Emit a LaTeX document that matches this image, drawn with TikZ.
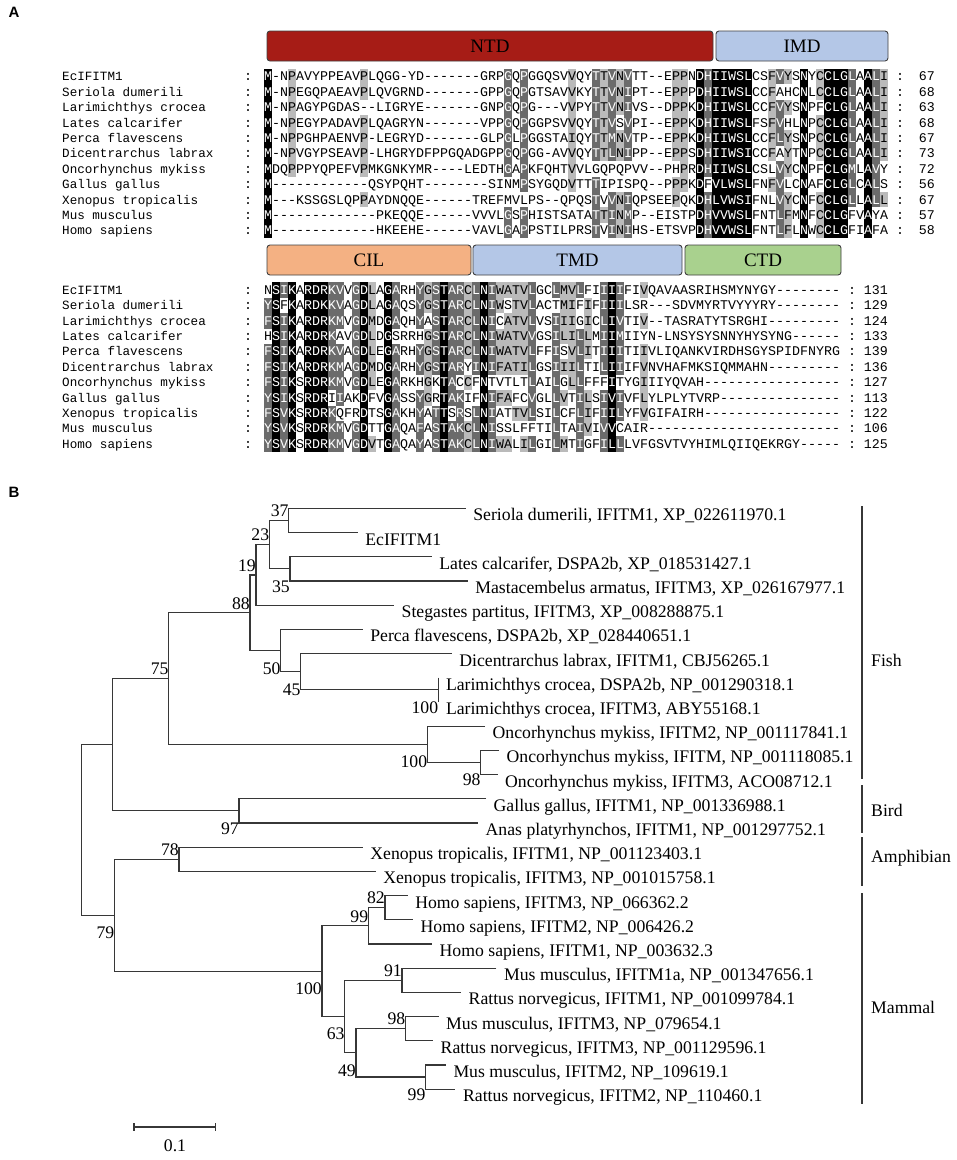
\documentclass[tikz,border=0pt]{standalone}
\usepackage{fontspec}
\setmainfont{Liberation Serif}
\newfontfamily\seqfont{Liberation Mono}
\newfontfamily\tagfont{Liberation Sans}

\definecolor{ntdred}{RGB}{166,28,22}
\definecolor{domblue}{RGB}{180,199,231}
\definecolor{cilorange}{RGB}{244,177,131}
\definecolor{ctdgreen}{RGB}{169,209,142}
\definecolor{treegray}{RGB}{55,55,55}

\tikzset{
     panel/.style = { font=\tagfont\bfseries\fontsize{15}{15}\selectfont, inner sep=0pt },
    dombox/.style = { draw=black!75, line width=0.9pt, rounded corners=3pt,
                      minimum height=30pt, inner sep=0pt, font=\fontsize{19}{19}\selectfont },
   seqname/.style = { anchor=west, inner sep=0pt, text height=8.6pt, text depth=0pt,
                      font=\seqfont\fontsize{12.6}{13}\selectfont },
   seqmark/.style = { inner sep=0pt, text height=8.6pt, text depth=0pt,
                      font=\seqfont\fontsize{13.3}{14}\selectfont },
   rescell/.style = { inner sep=0pt, minimum width=8pt, minimum height=15.4pt,
                      text height=8.6pt, text depth=0pt, font=\seqfont\fontsize{13.3}{14}\selectfont },
   resnone/.style = { rescell },
  reslight/.style = { rescell, fill=black!27 },
   resdark/.style = { rescell, fill=black!58, text=white },
  resblack/.style = { rescell, fill=black, text=white },
  treeline/.style = { draw=treegray, line width=1.2pt },
      leaf/.style = { anchor=base west, xshift=7.5pt, yshift=-12.5pt, inner sep=0pt,
                      font=\fontsize{17.7}{18}\selectfont },
    bootup/.style = { anchor=east, yshift=9.5pt, inner sep=0pt, font=\fontsize{17.7}{18}\selectfont },
    bootdn/.style = { anchor=east, yshift=-17.7pt, inner sep=0pt, font=\fontsize{17.7}{18}\selectfont },
     clade/.style = { anchor=west, inner sep=0pt, font=\fontsize{17.7}{18}\selectfont }
}

\newcount\rescol
\newcount\reslevel
\def\dsh#1{\ifnum#1>0 -\expandafter\dsh\expandafter{\the\numexpr#1-1\relax}\fi}
\def\readres#1{\ifx\relax#1\else
  \global\advance\rescol by 1
  \expandafter\xdef\csname res:\curblk:\currow:\the\rescol\endcsname{#1}%
  \expandafter\readres\fi}
\def\storeseq#1#2#3#4{\def\curblk{#1}\def\currow{#2}\global\rescol=0
  \edef\restmp{#4}\expandafter\readres\restmp\relax
  \loop\ifnum\rescol<#3 \global\advance\rescol by 1
  \expandafter\xdef\csname res:\curblk:\currow:\the\rescol\endcsname{-}\repeat}
\def\defgrp#1#2{\expandafter\def\csname grp:#1\endcsname{#2}}
\defgrp DD\defgrp ND\defgrp EE\defgrp QE\defgrp SS\defgrp TS
\defgrp KK\defgrp RK\defgrp FF\defgrp YF\defgrp WF
\defgrp LL\defgrp IL\defgrp VL\defgrp ML
\def\grpof#1{\ifcsname grp:#1\endcsname\csname grp:#1\endcsname\else#1\fi}
\def\countcol#1#2{\foreach \rowi in {1,...,11}{%
  \edef\resgrp{\grpof{\csname res:#1:\rowi:#2\endcsname}}%
  \edef\rescnt{\the\numexpr\ifcsname cnt:#1:#2:\resgrp\endcsname
    \csname cnt:#1:#2:\resgrp\endcsname\else0\fi+1\relax}%
  \expandafter\xdef\csname cnt:#1:#2:\resgrp\endcsname{\rescnt}}}
\newcommand\putres[5]{%
  \edef\resch{\csname res:#1:#2:#3\endcsname}%
  \edef\resgrp{\grpof{\resch}}%
  \edef\rescnt{\ifcsname cnt:#1:#3:\resgrp\endcsname\csname cnt:#1:#3:\resgrp\endcsname\else0\fi}%
  \reslevel=0
  \if-\resch\else
    \ifnum\rescnt>6 \reslevel=1 \fi
    \ifnum\rescnt>8 \reslevel=2 \fi
    \ifnum\rescnt>10 \reslevel=3 \fi
  \fi
  \ifcase\reslevel
    \node[resnone] (#1-#2-#3) at ({#5+8*#3-4},{#4}) {\resch};
  \or \node[reslight] (#1-#2-#3) at ({#5+8*#3-4},{#4}) {\resch};
  \or \node[resdark] (#1-#2-#3) at ({#5+8*#3-4},{#4}) {\resch};
  \or \node[resblack] (#1-#2-#3) at ({#5+8*#3-4},{#4}) {\resch};
  \fi}

\storeseq{A}{1}{78}{M-NPAVYPPEAVPLQGG-YD\dsh{7}GRPGQPGGQSVVQYTTVNVTT--EPPNDHIIWSLCSFVYSNYCCLGLAALI}
\storeseq{A}{2}{78}{M-NPEGQPAEAVPLQVGRND\dsh{7}GPPGQPGTSAVVKYTTVNIPT--EPPPDHIIWSLCCFAHCNLCCLGLAALI}
\storeseq{A}{3}{78}{M-NPAGYPGDAS--LIGRYE\dsh{7}GNPGQPG---VVPYTTVNIVS--DPPKDHIIWSLCCFVYSNPFCLGLAALI}
\storeseq{A}{4}{78}{M-NPEGYPADAVPLQAGRYN\dsh{7}VPPGQPGGPSVVQYTTVSVPI--EPPKDHIIWSLFSFVHLNPCCLGLAALI}
\storeseq{A}{5}{78}{M-NPPGHPAENVP-LEGRYD\dsh{7}GLPGLPGGSTAIQYTTMNVTP--EPPKDHIIWSLCCFLYSNPCCLGLAALI}
\storeseq{A}{6}{78}{M-NPVGYPSEAVP-LHGRYDFPPGQADGPPGQPGG-AVVQYTTLNIPP--EPPSDHIIWSICCFAYTNPCCLGLAALI}
\storeseq{A}{7}{78}{MDQPPPYQPEFVPMKGNKYMR----LEDTHGAPKFQHTVVLGQPQPVV--PHPRDHIIWSLCSLVYCNPFCLGMLAVY}
\storeseq{A}{8}{78}{M\dsh{12}QSYPQHT\dsh{8}SINMPSYGQDVTTTIPISPQ--PPPKDFVLWSLFNFVLCNAFCLGLCALS}
\storeseq{A}{9}{78}{M---KSSGSLQPPAYDNQQE\dsh{6}TREFMVLPS--QPQSTVVNIQPSEEPQKDHLVWSIFNLVYCNFCCLGLLALL}
\storeseq{A}{10}{78}{M\dsh{13}PKEQQE\dsh{6}VVVLGSPHISTSATATTINMP--EISTPDHVVWSLFNTLFMNFCCLGFVAYA}
\storeseq{A}{11}{78}{M\dsh{13}HKEEHE\dsh{6}VAVLGAPPSTILPRSTVINIHS-ETSVPDHVVWSLFNTLFLNWCCLGFIAFA}

\storeseq{B}{1}{72}{NSIKARDRKVVGDLAGARHYGSTARCLNIWATVLGCLMVLFIIIIFIVQAVAASRIHSMYNYGY}
\storeseq{B}{2}{72}{YSFKARDKKVAGDLAGAQSYGSTARCLNIWSTVLACTMIFIFIIILSR---SDVMYRTVYYYRY}
\storeseq{B}{3}{72}{FSIKARDRKMVGDMDGAQHYASTARCLNICATVLVSIIIGICLIVTIV--TASRATYTSRGHI}
\storeseq{B}{4}{72}{HSIKARDRKAVGDLDGSRRHGSTARCLNIWATVVGSILILLMIIMIIYN-LNSYSYSNNYHYSYNG}
\storeseq{B}{5}{72}{FSIKARDRKVAGDLEGARHYGSTARCLNIWATVLFFISVLITIIITIIVLIQANKVIRDHSGYSPIDFNYRG}
\storeseq{B}{6}{72}{FSIKARDRKMAGDMDGARHYGSTARYINIFATILGSIIILTILIIIFVNVHAFMKSIQMMAHN}
\storeseq{B}{7}{72}{FSIKSRDRKMVGDLEGARKHGKTACCFNTVTLTLAILGLLFFFITYGIIIYQVAH}
\storeseq{B}{8}{72}{YSIKSRDRIIAKDFVGASSYGRTAKIFNIFAFCVGLLVTILSIVIVFLYLPLYTVRP}
\storeseq{B}{9}{72}{FSVKSRDRKQFRDTSGAKHYATTSRSLNIATTVLSILCFLIFIILYFVGIFAIRH}
\storeseq{B}{10}{72}{YSVKSRDRKMVGDTTGAQAFASTAKCLNISSLFFTILTAIVIVVCAIR}
\storeseq{B}{11}{72}{YSVKSRDRKMVGDVTGAQAYASTAKCLNIWALILGILMTIGFILLLVFGSVTVYHIMLQIIQEKRGY}

\foreach \coli in {1,...,78}{\countcol{A}{\coli}}
\foreach \coli in {1,...,72}{\countcol{B}{\coli}}

\begin{document}
\begin{tikzpicture}[x=1pt, y=-1pt]
  \fill[white] (0,0) rectangle (957,1160);
  \useasboundingbox (0,0) rectangle (957,1160);

  \node[panel] (pa) at (14,12) {A};
  \node[panel] (pb) at (14,492) {B};

  \node[dombox, fill=ntdred, minimum width=446pt] (ntd) at (490,46) {NTD};
  \node[dombox, fill=domblue, minimum width=172pt] (imd) at (802,46) {IMD};
  \node[dombox, fill=cilorange, minimum width=204pt] (cil) at (369,260) {CIL};
  \node[dombox, fill=domblue, minimum width=209pt] (tmd) at (577.5,260) {TMD};
  \node[dombox, fill=ctdgreen, minimum width=156pt] (ctd) at (763,260) {CTD};

  \foreach \rowi/\nm/\na/\nb in {1/EcIFITM1/67/131, 2/Seriola dumerili/68/129,
      3/Larimichthys crocea/63/124, 4/Lates calcarifer/68/133, 5/Perca flavescens/67/139,
      6/Dicentrarchus labrax/73/136, 7/Oncorhynchus mykiss/72/127, 8/Gallus gallus/56/113,
      9/Xenopus tropicalis/67/122, 10/Mus musculus/57/106, 11/Homo sapiens/58/125}{
    \node[seqname] (nmA-\rowi) at (62,{76.5+15.4*(\rowi-1)}) {\nm};
    \node[seqmark] (cA-\rowi) at (248,{76.5+15.4*(\rowi-1)}) {:};
    \node[seqmark] (dA-\rowi) at (900,{76.5+15.4*(\rowi-1)}) {:};
    \node[seqmark, anchor=east] (numA-\rowi) at (935,{76.5+15.4*(\rowi-1)}) {\na};
    \node[seqname] (nmB-\rowi) at (62,{290+15.4*(\rowi-1)}) {\nm};
    \node[seqmark] (cB-\rowi) at (248,{290+15.4*(\rowi-1)}) {:};
    \node[seqmark] (dB-\rowi) at (852,{290+15.4*(\rowi-1)}) {:};
    \node[seqmark, anchor=east] (numB-\rowi) at (888,{290+15.4*(\rowi-1)}) {\nb};
    \foreach \coli in {1,...,78}{\putres{A}{\rowi}{\coli}{76.5+15.4*(\rowi-1)}{264}}
    \foreach \coli in {1,...,72}{\putres{B}{\rowi}{\coli}{290+15.4*(\rowi-1)}{264}}
  }

  \foreach \lf/\xe/\txt in {1/465.7/{Seriola dumerili, IFITM1, XP\_022611970.1},
      2/357.7/EcIFITM1,
      3/431.7/{Lates calcarifer, DSPA2b, XP\_018531427.1},
      4/467.7/{Mastacembelus armatus, IFITM3, XP\_026167977.1},
      5/394/{Stegastes partitus, IFITM3, XP\_008288875.1},
      6/362.7/{Perca flavescens, DSPA2b, XP\_028440651.1},
      7/451.7/{Dicentrarchus labrax, IFITM1, CBJ56265.1},
      8/438.3/{Larimichthys crocea, DSPA2b, NP\_001290318.1},
      9/438.3/{Larimichthys crocea, IFITM3, ABY55168.1},
      10/485/{Oncorhynchus mykiss, IFITM2, NP\_001117841.1},
      11/499/{Oncorhynchus mykiss, IFITM, NP\_001118085.1},
      12/497.5/{Oncorhynchus mykiss, IFITM3, ACO08712.1},
      13/486/{Gallus gallus, IFITM1, NP\_001336988.1},
      14/478/{Anas platyrhynchos, IFITM1, NP\_001297752.1},
      15/362.7/{Xenopus tropicalis, IFITM1, NP\_001123403.1},
      16/375.6/{Xenopus tropicalis, IFITM3, NP\_001015758.1},
      17/407.6/{Homo sapiens, IFITM3, NP\_066362.2},
      18/413/{Homo sapiens, IFITM2, NP\_006426.2},
      19/432/{Homo sapiens, IFITM1, NP\_003632.3},
      20/496.4/{Mus musculus, IFITM1a, NP\_001347656.1},
      21/461/{Rattus norvegicus, IFITM1, NP\_001099784.1},
      22/438.5/{Mus musculus, IFITM3, NP\_079654.1},
      23/433/{Rattus norvegicus, IFITM3, NP\_001129596.1},
      24/445.8/{Mus musculus, IFITM2, NP\_109619.1},
      25/455.4/{Rattus norvegicus, IFITM2, NP\_110460.1}}{
    \coordinate (l\lf) at (\xe,{508.3+24.2*(\lf-1)});
    \node[leaf] (t\lf) at (l\lf) {\txt};
  }

  \coordinate (n37) at (288.7,520.4);
  \coordinate (n35) at (290,568.8);
  \coordinate (n23) at (269.3,544.6);
  \coordinate (n19) at (256,574.9);
  \coordinate (nla) at (438.3,689.8);
  \coordinate (n45) at (300.7,671.7);
  \coordinate (n50) at (280.7,650.5);
  \coordinate (n88) at (250,612.7);
  \coordinate (n98) at (480.7,762.4);
  \coordinate (non) at (427.3,744.3);
  \coordinate (n75) at (168.7,678.5);
  \coordinate (n97) at (239,810.8);
  \coordinate (nfb) at (112.3,744.7);
  \coordinate (n78) at (179,859.2);
  \coordinate (n82) at (385,907.6);
  \coordinate (n99) at (368.3,925.8);
  \coordinate (n91) at (402,980.2);
  \coordinate (n98b) at (405.4,1028.6);
  \coordinate (n99b) at (425.6,1077);
  \coordinate (n49) at (356,1052.8);
  \coordinate (n63) at (344.7,1016.5);
  \coordinate (nma) at (322,971.2);
  \coordinate (n79) at (114.4,915.2);
  \coordinate (root) at (81.8,830);

  \draw[treeline] (l1) -| (n37) |- (l2);
  \draw[treeline] (l3) -| (n35) |- (l4);
  \draw[treeline] (n37) -| (n23) |- (n35);
  \draw[treeline] (n23) -| (n19) |- (l5);
  \draw[treeline] (l8) -| (nla) |- (l9);
  \draw[treeline] (l7) -| (n45) |- (nla);
  \draw[treeline] (l6) -| (n50) |- (n45);
  \draw[treeline] (n19) -| (n88) |- (n50);
  \draw[treeline] (l11) -| (n98) |- (l12);
  \draw[treeline] (l10) -| (non) |- (n98);
  \draw[treeline] (n88) -| (n75) |- (non);
  \draw[treeline] (l13) -| (n97) |- (l14);
  \draw[treeline] (n75) -| (nfb) |- (n97);
  \draw[treeline] (l15) -| (n78) |- (l16);
  \draw[treeline] (l17) -| (n82) |- (l18);
  \draw[treeline] (n82) -| (n99) |- (l19);
  \draw[treeline] (l20) -| (n91) |- (l21);
  \draw[treeline] (l22) -| (n98b) |- (l23);
  \draw[treeline] (l24) -| (n99b) |- (l25);
  \draw[treeline] (n98b) -| (n49) |- (n99b);
  \draw[treeline] (n91) -| (n63) |- (n49);
  \draw[treeline] (n99) -| (nma) |- (n63);
  \draw[treeline] (n78) -| (n79) |- (nma);
  \draw[treeline] (nfb) -| (root) |- (n79);

  \node[bootup] (b37) at (n37) {37};
  \node[bootup] (b23) at (n23) {23};
  \node[bootup] (b19) at (n19) {19};
  \node[bootup] (b88) at (n88) {88};
  \node[bootup] (b75) at (n75) {75};
  \node[bootup] (b78) at (n78) {78};
  \node[bootup] (b82) at (n82) {82};
  \node[bootup] (b99) at (n99) {99};
  \node[bootup] (b91) at (n91) {91};
  \node[bootup] (b98b) at (n98b) {98};
  \node[bootdn] (b35) at (n35) {35};
  \node[bootdn] (b50) at (n50) {50};
  \node[bootdn] (b45) at (n45) {45};
  \node[bootdn] (bla) at (nla) {100};
  \node[bootdn] (bon) at (non) {100};
  \node[bootdn] (b98) at (n98) {98};
  \node[bootdn] (b97) at (n97) {97};
  \node[bootdn] (b79) at (n79) {79};
  \node[bootdn] (bma) at (nma) {100};
  \node[bootdn] (b63) at (n63) {63};
  \node[bootdn] (b49) at (n49) {49};
  \node[bootdn] (b99b) at (n99b) {99};

  \coordinate (fish1) at (862,506);
  \coordinate (fish2) at (862,779);
  \coordinate (bird1) at (862,785);
  \coordinate (bird2) at (862,833);
  \coordinate (amph1) at (862,837);
  \coordinate (amph2) at (862,886);
  \coordinate (mamm1) at (862,893);
  \coordinate (mamm2) at (862,1104);
  \draw[treeline] (fish1) -- (fish2);
  \draw[treeline] (bird1) -- (bird2);
  \draw[treeline] (amph1) -- (amph2);
  \draw[treeline] (mamm1) -- (mamm2);
  \node[clade] (fishlab) at (871,660) {Fish};
  \node[clade] (birdlab) at (871,810) {Bird};
  \node[clade] (amphlab) at (871,858) {Amphibian};
  \node[clade] (mammlab) at (871,1007) {Mammal};

  \coordinate (sc1) at (134,1127);
  \coordinate (sc2) at (215.5,1127);
  \draw[treeline] (sc1) -- (sc2);
  \draw[treeline] ([yshift=4pt]sc1) -- ([yshift=-4pt]sc1);
  \draw[treeline] ([yshift=4pt]sc2) -- ([yshift=-4pt]sc2);
  \node[clade, anchor=center] (sclab) at (175,1146) {0.1};
\end{tikzpicture}
\end{document}
